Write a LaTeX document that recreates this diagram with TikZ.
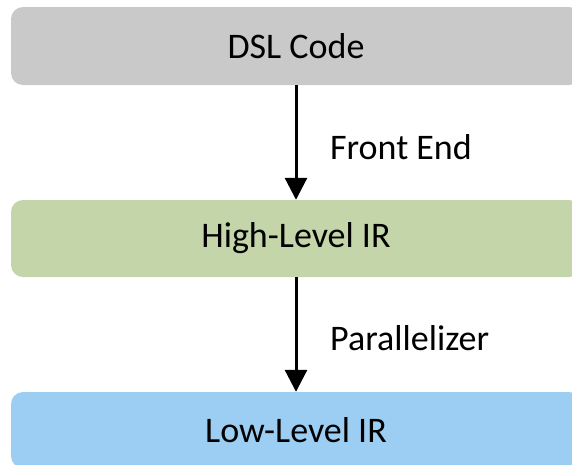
\documentclass[tikz,border=0pt]{standalone}
\usepackage{fontspec}
\setmainfont{Carlito}
\usetikzlibrary{arrows.meta}
\definecolor{dslgray}{RGB}{201,201,201}
\definecolor{hlgreen}{RGB}{196,213,169}
\definecolor{llblue}{RGB}{156,206,243}
\begin{document}
\begin{tikzpicture}[x=1pt,y=-1pt,
  stage/.style={rounded corners=12pt, minimum width=570pt, inner sep=0pt,
    font=\fontsize{36}{40}\selectfont, text=black},
  flow/.style={line width=3pt, -{Triangle[width=22pt,length=22pt]}},
  passlabel/.style={anchor=west, inner sep=0pt, font=\fontsize{36}{40}\selectfont}]
  \clip (0,0) rectangle (572,464);
  \fill[white] (0,0) rectangle (572,464);
  \node[stage, fill=dslgray, minimum height=78pt] (dsl) at (296,46) {DSL Code};
  \node[stage, fill=hlgreen, minimum height=77pt] (hl) at (296,238.5) {High-Level IR};
  \node[stage, fill=llblue, minimum height=76pt] (ll) at (296,430) {Low-Level IR};
  \draw[flow] (dsl.south) -- (hl.north);
  \draw[flow] (hl.south) -- (ll.north);
  \node[passlabel] (fe) at (330,147) {Front End};
  \node[passlabel] (par) at (330,338) {Parallelizer};
\end{tikzpicture}
\end{document}
